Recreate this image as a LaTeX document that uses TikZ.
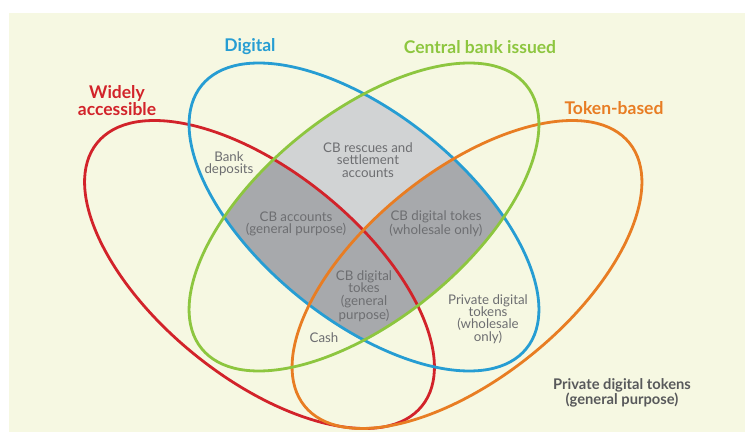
\documentclass[tikz,border=0pt]{standalone}
\usepackage{fontspec}
\setmainfont{Lato}
\definecolor{cream}{RGB}{246,248,226}
\definecolor{lgray}{RGB}{209,211,212}
\definecolor{dgray}{RGB}{167,169,172}
\definecolor{txtgray}{RGB}{109,110,113}
\definecolor{boldgray}{RGB}{88,89,91}
\definecolor{vred}{RGB}{210,35,42}
\definecolor{vblue}{RGB}{38,157,211}
\definecolor{vgreen}{RGB}{141,198,63}
\definecolor{vorange}{RGB}{232,125,35}
\tikzset{
  ring/.style={line width=2.8pt},
  setlabel/.style={font=\fontsize{17.5}{13}\selectfont\bfseries, align=center, inner sep=0pt},
  region/.style={font=\fontsize{13.3}{12.4}\selectfont, text=txtgray, align=center, inner sep=0pt},
}
\begin{document}
\begin{tikzpicture}[x=1pt,y=1pt]
\useasboundingbox (0,0) rectangle (745,432);
\fill[cream] (9,0) rectangle (745,419);
% shading: blue and green intersection
\begin{scope}
  \clip[rotate around={-39:(364,215)}] (364,215) ellipse [x radius=209pt, y radius=103pt];
  \fill[lgray, rotate around={39:(364,215)}] (364,215) ellipse [x radius=209pt, y radius=103pt];
  \clip[rotate around={39:(364,215)}] (364,215) ellipse [x radius=209pt, y radius=103pt];
  \fill[dgray, rotate around={-39:(259.5,157.5)}] (259.5,157.5) ellipse [x radius=209pt, y radius=103pt];
  \fill[dgray, rotate around={39:(467,157.5)}] (467,157.5) ellipse [x radius=209pt, y radius=103pt];
\end{scope}
% rings
\draw[ring, vred, rotate around={-39:(259.5,157.5)}] (259.5,157.5) ellipse [x radius=209pt, y radius=103pt];
\draw[ring, vblue, rotate around={-39:(364,215)}] (364,215) ellipse [x radius=209pt, y radius=103pt];
\draw[ring, vorange, rotate around={39:(467,157.5)}] (467,157.5) ellipse [x radius=209pt, y radius=103pt];
\draw[ring, vgreen, rotate around={39:(364,215)}] (364,215) ellipse [x radius=209pt, y radius=103pt];
% set labels
\node[setlabel, text=vblue] (digital) at (250,385) {Digital};
\node[setlabel, text=vgreen] (cbissued) at (480,385) {Central bank issued};
\node[setlabel, text=vred] (widely) at (117,331) {Widely\\accessible};
\node[setlabel, text=vorange] (token) at (614,324) {Token-based};
% region labels
\node[region] (bank) at (229,268) {Bank\\deposits};
\node[region] (rescues) at (368,272) {CB rescues and\\settlement\\accounts};
\node[region] (cbacc) at (296,208) {CB accounts\\(general purpose)};
\node[region] (cbwhole) at (436,208) {CB digital tokes\\(wholesale only)};
\node[region] (cbgen) at (364,136) {CB digital\\tokes\\(general\\purpose)};
\node[region] (cash) at (324,94) {Cash};
\node[region] (privwhole) at (488,113) {Private digital\\tokens\\(wholesale\\only)};
\node[font=\fontsize{14.7}{11.8}\selectfont\bfseries, text=boldgray, align=center, inner sep=0pt] (privgen) at (622,39) {Private digital tokens\\(general purpose)};
\end{tikzpicture}
\end{document}
